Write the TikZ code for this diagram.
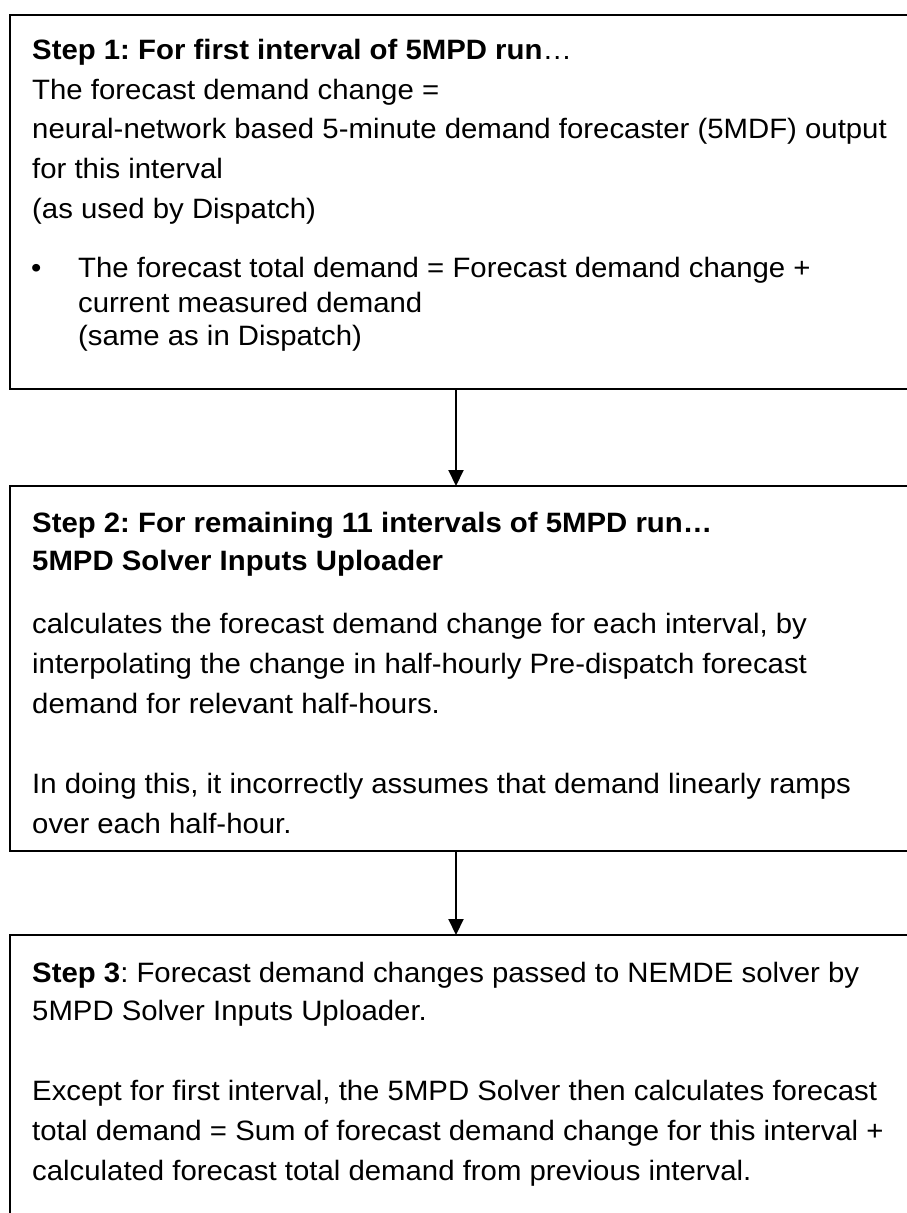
\documentclass[tikz,border=0pt]{standalone}
\usepackage{fontspec}
\setmainfont[FakeStretch=1.048]{Liberation Sans}
\usetikzlibrary{arrows.meta}
\frenchspacing
\tikzset{
  stepbox/.style={draw, line width=2pt, outer sep=0pt, anchor=north west, minimum width=950pt},
  txt/.style={anchor=base west, inner sep=0pt, font=\fontsize{28}{34}\selectfont},
  flow/.style={line width=2pt, -{Triangle[length=16pt,width=15pt]}}
}
\begin{document}
\begin{tikzpicture}[x=1pt,y=-1pt]
  \useasboundingbox (0,0) rectangle (907,1213);
  \clip (0,0) rectangle (907,1213);
  % the three step boxes, open to the right
  \draw (10,15) node[stepbox, minimum height=374pt] (box1) {};
  \draw (10,486) node[stepbox, minimum height=365pt] (box2) {};
  \draw (10,935) node[stepbox, minimum height=400pt] (box3) {};
  \coordinate (ax) at (456,0);
  \draw[flow] (box1.south -| ax) -- (box2.north -| ax);
  \draw[flow] (box2.south -| ax) -- (box3.north -| ax);

  % step 1
  \draw (32,59) node[txt] (s1a) {\textbf{Step 1: For first interval of 5MPD run}…};
  \draw (32,99) node[txt] (s1b) {The forecast demand change =};
  \draw (32,138) node[txt] (s1c) {neural-network based 5-minute demand forecaster (5MDF) output};
  \draw (32,178) node[txt] (s1d) {for this interval};
  \draw (32,218) node[txt] (s1e) {(as used by Dispatch)};
  \draw (31,277) node[txt] (dot) {\textbullet};
  \draw (78,277) node[txt] (s1f) {The forecast total demand = Forecast demand change +};
  \draw (78,312) node[txt] (s1g) {current measured demand};
  \draw (78,345) node[txt] (s1h) {(same as in Dispatch)};

  % step 2
  \draw (32,532) node[txt] (s2a) {\textbf{Step 2: For remaining 11 intervals of 5MPD run…}};
  \draw (32,570) node[txt] (s2b) {\textbf{5MPD Solver Inputs Uploader}};
  \draw (32,633) node[txt] (s2c) {calculates the forecast demand change for each interval, by};
  \draw (32,673) node[txt] (s2d) {interpolating the change in half-hourly Pre-dispatch forecast};
  \draw (32,713) node[txt] (s2e) {demand for relevant half-hours.};
  \draw (32,793) node[txt] (s2f) {In doing this, it incorrectly assumes that demand linearly ramps};
  \draw (32,833) node[txt] (s2g) {over each half-hour.};

  % step 3
  \draw (32,982) node[txt] (s3a) {\textbf{Step 3}: Forecast demand changes passed to NEMDE solver by};
  \draw (32,1020) node[txt] (s3b) {5MPD Solver Inputs Uploader.};
  \draw (32,1100) node[txt] (s3c) {Except for first interval, the 5MPD Solver then calculates forecast};
  \draw (32,1140) node[txt] (s3d) {total demand = Sum of forecast demand change for this interval +};
  \draw (32,1180) node[txt] (s3e) {calculated forecast total demand from previous interval.};
\end{tikzpicture}
\end{document}
